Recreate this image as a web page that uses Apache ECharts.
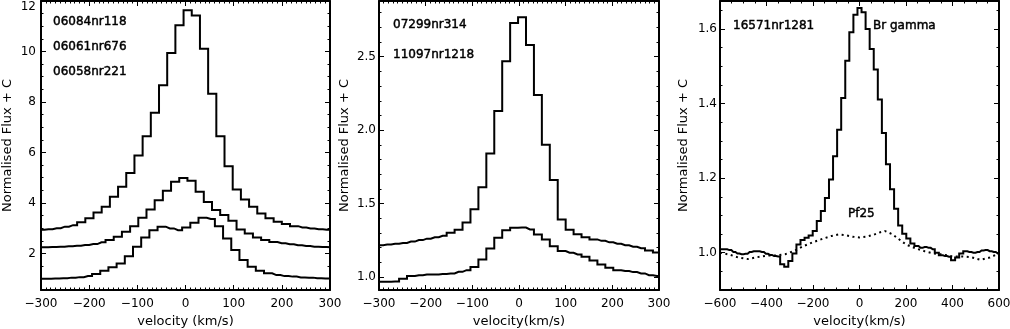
<!DOCTYPE html>
<html>
<head>
<meta charset="utf-8">
<script src="https://cdn.jsdelivr.net/npm/echarts@6/dist/echarts.min.js"></script>
<style>
    html, body { margin: 0; padding: 0; background: #fff; }
    #main { width: 1010px; height: 329px; }
</style>
</head>
<body>
<div id="main"></div>
<script>
//********************************* data *********************************
// panel 1 (bin centres in km/s, flux per bin)
let vel06084 = [-301.5, -284.5, -267.5, -250.5, -233.5, -216.5, -199.5, -182.5, -165.5, -148.5, -131.5, -114.5, -97.5, -80.5, -63.5, -46.5, -29.5, -12.5, 4.5, 21.5, 38.5, 55.5, 72.5, 89.5, 106.5, 123.5, 140.5, 157.5, 174.5, 191.5, 208.5, 225.5, 242.5, 259.5, 276.5, 293.5, 310.5];
let flux06084 = [2.94, 2.96, 3.00, 3.06, 3.12, 3.23, 3.39, 3.62, 3.85, 4.24, 4.64, 5.19, 5.88, 6.64, 7.57, 8.66, 9.94, 11.04, 11.63, 11.43, 10.11, 8.33, 6.64, 5.45, 4.53, 4.14, 3.85, 3.58, 3.39, 3.25, 3.16, 3.08, 3.03, 2.99, 2.96, 2.94, 2.92];
let vel06061 = [-310.5, -293.5, -276.5, -259.5, -242.5, -225.5, -208.5, -191.5, -174.5, -157.5, -140.5, -123.5, -106.5, -89.5, -72.5, -55.5, -38.5, -21.5, -4.5, 12.5, 29.5, 46.5, 63.5, 80.5, 97.5, 114.5, 131.5, 148.5, 165.5, 182.5, 199.5, 216.5, 233.5, 250.5, 267.5, 284.5, 301.5];
let flux06061 = [2.24, 2.24, 2.25, 2.26, 2.28, 2.30, 2.33, 2.37, 2.44, 2.53, 2.66, 2.86, 3.08, 3.41, 3.74, 4.11, 4.48, 4.84, 4.99, 4.88, 4.44, 4.04, 3.72, 3.52, 3.29, 2.95, 2.79, 2.63, 2.53, 2.45, 2.40, 2.36, 2.32, 2.29, 2.26, 2.25, 2.24];
let vel06058 = [-304.5, -287.5, -270.5, -253.5, -236.5, -219.5, -202.5, -185.5, -168.5, -151.5, -134.5, -117.5, -100.5, -83.5, -66.5, -49.5, -32.5, -15.5, 1.5, 18.5, 35.5, 52.5, 69.5, 86.5, 103.5, 120.5, 137.5, 154.5, 171.5, 188.5, 205.5, 222.5, 239.5, 256.5, 273.5, 290.5, 307.5];
let flux06058 = [1.00, 1.00, 1.01, 1.02, 1.04, 1.06, 1.10, 1.18, 1.31, 1.45, 1.60, 1.89, 2.26, 2.63, 2.92, 3.06, 2.99, 2.92, 3.03, 3.21, 3.41, 3.36, 3.08, 2.59, 2.13, 1.74, 1.47, 1.31, 1.21, 1.14, 1.10, 1.08, 1.05, 1.04, 1.02, 1.01, 1.01];

// panel 2
let vel07299 = [-316.5, -299.5, -282.5, -265.5, -248.5, -231.5, -214.5, -197.5, -180.5, -163.5, -146.5, -129.5, -112.5, -95.5, -78.5, -61.5, -44.5, -27.5, -10.5, 6.5, 23.5, 40.5, 57.5, 74.5, 91.5, 108.5, 125.5, 142.5, 159.5, 176.5, 193.5, 210.5, 227.5, 244.5, 261.5, 278.5, 295.5, 312.5];
let flux07299 = [1.215, 1.215, 1.22, 1.225, 1.23, 1.24, 1.25, 1.26, 1.27, 1.28, 1.30, 1.32, 1.37, 1.46, 1.61, 1.84, 2.13, 2.47, 2.73, 2.77, 2.58, 2.24, 1.90, 1.66, 1.39, 1.32, 1.29, 1.27, 1.255, 1.245, 1.235, 1.225, 1.215, 1.205, 1.195, 1.18, 1.165, 1.155];
let vel11097 = vel07299;
let flux11097 = [0.966, 0.966, 0.966, 0.968, 0.986, 1.005, 1.011, 1.016, 1.016, 1.019, 1.023, 1.034, 1.045, 1.066, 1.118, 1.193, 1.266, 1.318, 1.334, 1.336, 1.323, 1.289, 1.255, 1.209, 1.175, 1.164, 1.152, 1.136, 1.111, 1.084, 1.061, 1.045, 1.039, 1.032, 1.023, 1.011, 1.005, 1.0];

// panel 3, Br gamma (histogram) and Pf25 (dotted)
let velBrg = [-612.5, -595, -577.5, -560, -542.5, -525, -507.5, -490, -472.5, -455, -437.5, -420, -402.5, -385, -367.5, -350, -332.5, -315, -297.5, -280, -262.5, -245, -227.5, -210, -192.5, -175, -157.5, -140, -122.5, -105, -87.5, -70, -52.5, -35, -17.5, 0, 17.5, 35, 52.5, 70, 87.5, 105, 122.5, 140, 157.5, 175, 192.5, 210, 227.5, 245, 262.5, 280, 297.5, 315, 332.5, 350, 367.5, 385, 402.5, 420, 437.5, 455, 472.5, 490, 507.5, 525, 542.5, 560, 577.5, 595, 612.5];
let fluxBrg = [1.009, 1.009, 1.009, 1.007, 1.002, 0.998, 0.996, 0.997, 1.002, 1.004, 1.004, 1.002, 0.997, 0.994, 0.991, 0.990, 0.969, 0.9625, 0.978, 0.998, 1.022, 1.034, 1.040, 1.046, 1.058, 1.085, 1.112, 1.147, 1.196, 1.259, 1.330, 1.415, 1.515, 1.591, 1.638, 1.656, 1.645, 1.600, 1.546, 1.491, 1.411, 1.321, 1.237, 1.170, 1.118, 1.073, 1.051, 1.038, 1.025, 1.018, 1.013, 1.015, 1.013, 1.009, 1.000, 0.993, 0.991, 0.989, 0.980, 0.987, 0.998, 1.004, 1.002, 1.000, 1.002, 1.006, 1.007, 1.004, 1.002, 0.998, 0.998];
let velPf25 = [-600, -560, -520, -480, -440, -400, -360, -320, -280, -240, -200, -160, -120, -90, -60, -30, 0, 30, 60, 90, 110, 140, 170, 200, 240, 280, 320, 360, 400, 440, 480, 520, 560, 600];
let fluxPf25 = [1.0, 0.995, 0.987, 0.983, 0.988, 0.992, 0.993, 0.996, 1.005, 1.018, 1.028, 1.037, 1.045, 1.049, 1.047, 1.043, 1.041, 1.043, 1.048, 1.055, 1.058, 1.05, 1.036, 1.022, 1.012, 1.004, 0.998, 0.995, 0.99, 0.99, 0.988, 0.981, 0.987, 0.998];

// axis ranges / ticks
let velRange12 = [-300, 300];
let velRange3 = [-600, 600];
let fluxRange1 = [0.55, 12];
let fluxRange2 = [0.91, 2.88];
let fluxRange3 = [0.9, 1.675];

let labels1 = ['06084nr118', '06061nr676', '06058nr221'];
let labels2 = ['07299nr314', '11097nr1218'];
let labels3 = ['16571nr1281', 'Br gamma', 'Pf25'];

//********************************* chart *********************************
let fontName = 'DejaVu Sans';
let ink = '#000';

let grids = [
    {left: 41, top: 1, width: 289, height: 289},
    {left: 379, top: 1, width: 280, height: 289},
    {left: 720, top: 1, width: 279, height: 289}
];

let xAxisFor = (gridIndex, range, step, minorSplit, name, onTop) => ({
    type: 'value',
    gridIndex: gridIndex,
    position: onTop ? 'top' : 'bottom',
    min: range[0],
    max: range[1],
    interval: step,
    name: onTop ? '' : name,
    nameLocation: 'middle',
    nameGap: 25,
    nameMoveOverlap: false,
    nameTextStyle: {color: ink, fontFamily: fontName, fontSize: 13},
    axisLine: {show: true, onZero: false, lineStyle: {color: ink, width: 2}},
    axisTick: {show: true, inside: true, length: 5, lineStyle: {color: ink, width: 1}},
    minorTick: {show: true, splitNumber: minorSplit, length: 2.5, lineStyle: {color: ink, width: 1}},
    axisLabel: {
        show: !onTop, color: ink, fontFamily: fontName, fontSize: 12, margin: 8,
        formatter: (v) => String(v).replace('-', '\u2212')
    },
    splitLine: {show: false},
    minorSplitLine: {show: false}
});

let yAxisFor = (gridIndex, range, split, minorSplit, fmt, showMax, gap, margin, onRight) => ({
    type: 'value',
    gridIndex: gridIndex,
    position: onRight ? 'right' : 'left',
    min: range[0],
    max: range[1],
    splitNumber: split,
    name: onRight ? '' : 'Normalised Flux + C',
    nameLocation: 'middle',
    nameGap: gap,
    nameMoveOverlap: false,
    nameTextStyle: {color: ink, fontFamily: fontName, fontSize: 13},
    axisLine: {show: true, onZero: false, lineStyle: {color: ink, width: 2}},
    axisTick: {show: true, inside: true, length: 5, lineStyle: {color: ink, width: 1}},
    minorTick: {show: true, splitNumber: minorSplit, length: 2.5, lineStyle: {color: ink, width: 1}},
    axisLabel: {
        show: !onRight, color: ink, fontFamily: fontName, fontSize: 12, margin: margin,
        showMinLabel: false, showMaxLabel: showMax,
        formatter: fmt,
        rich: {low: {color: ink, fontFamily: fontName, fontSize: 12, padding: [12, 0, 0, 0]}}
    },
    splitLine: {show: false},
    minorSplitLine: {show: false}
});

// "12" sits a little lower, as in the original print
let fmt1 = (v) => (v === 12 ? '{low|12}' : String(v));
let fmtDec = (v) => v.toFixed(1);

let stepLine = (name, axisIndex, vel, flux) => ({
    name: name,
    type: 'line',
    xAxisIndex: axisIndex,
    yAxisIndex: axisIndex,
    step: 'middle',
    symbol: 'none',
    clip: true,
    silent: true,
    data: vel.map((v, i) => [v, flux[i]]),
    lineStyle: {color: ink, width: 2, join: 'miter', cap: 'butt'}
});

// labels inside the panels are a bit heavier than the tick labels
let textAt = (x, y, text) => ({
    type: 'text',
    x: x,
    y: y,
    silent: true,
    style: {
        text: text, fill: ink, font: '12px "' + fontName + '"',
        stroke: ink, lineWidth: 0.45,
        verticalAlign: 'middle', align: 'left'
    }
});

let myChart = echarts.init(document.getElementById('main'), null, {renderer: 'canvas'});
let option = {
    backgroundColor: '#fff',
    animation: false,
    grid: grids.map(g => Object.assign({outerBoundsMode: 'none', containLabel: false}, g)),
    xAxis: [
        xAxisFor(0, velRange12, 100, 10, 'velocity (km/s)', false),
        xAxisFor(0, velRange12, 100, 10, '', true),
        xAxisFor(1, velRange12, 100, 10, 'velocity(km/s)', false),
        xAxisFor(1, velRange12, 100, 10, '', true),
        xAxisFor(2, velRange3, 200, 4, 'velocity(km/s)', false),
        xAxisFor(2, velRange3, 200, 4, '', true)
    ],
    yAxis: [
        yAxisFor(0, fluxRange1, 5, 4, fmt1, true, 27, 5, false),
        yAxisFor(0, fluxRange1, 5, 4, fmt1, true, 27, 5, true),
        yAxisFor(1, fluxRange2, 4, 5, fmtDec, false, 28, 3, false),
        yAxisFor(1, fluxRange2, 4, 5, fmtDec, false, 28, 3, true),
        yAxisFor(2, fluxRange3, 4, 4, fmtDec, false, 30, 3, false),
        yAxisFor(2, fluxRange3, 4, 4, fmtDec, false, 30, 3, true)
    ],
    series: [
        stepLine(labels1[0], 0, vel06084, flux06084),
        stepLine(labels1[1], 0, vel06061, flux06061),
        stepLine(labels1[2], 0, vel06058, flux06058),
        stepLine(labels2[0], 2, vel07299, flux07299),
        stepLine(labels2[1], 2, vel11097, flux11097),
        stepLine(labels3[1], 4, velBrg, fluxBrg),
        {
            name: labels3[2],
            type: 'line',
            xAxisIndex: 4,
            yAxisIndex: 4,
            symbol: 'none',
            clip: true,
            silent: true,
            data: velPf25.map((v, i) => [v, fluxPf25[i]]),
            lineStyle: {color: ink, width: 2, type: [2, 3.5], cap: 'butt'}
        }
    ],
    graphic: [
        textAt(53, 21.5, labels1[0]),
        textAt(53, 47, labels1[1]),
        textAt(53, 72, labels1[2]),
        textAt(393, 25, labels2[0]),
        textAt(393, 55, labels2[1]),
        textAt(733, 26, labels3[0]),
        textAt(873, 26, labels3[1]),
        textAt(848, 214, labels3[2])
    ]
};
myChart.setOption(option);
</script>
</body>
</html>
